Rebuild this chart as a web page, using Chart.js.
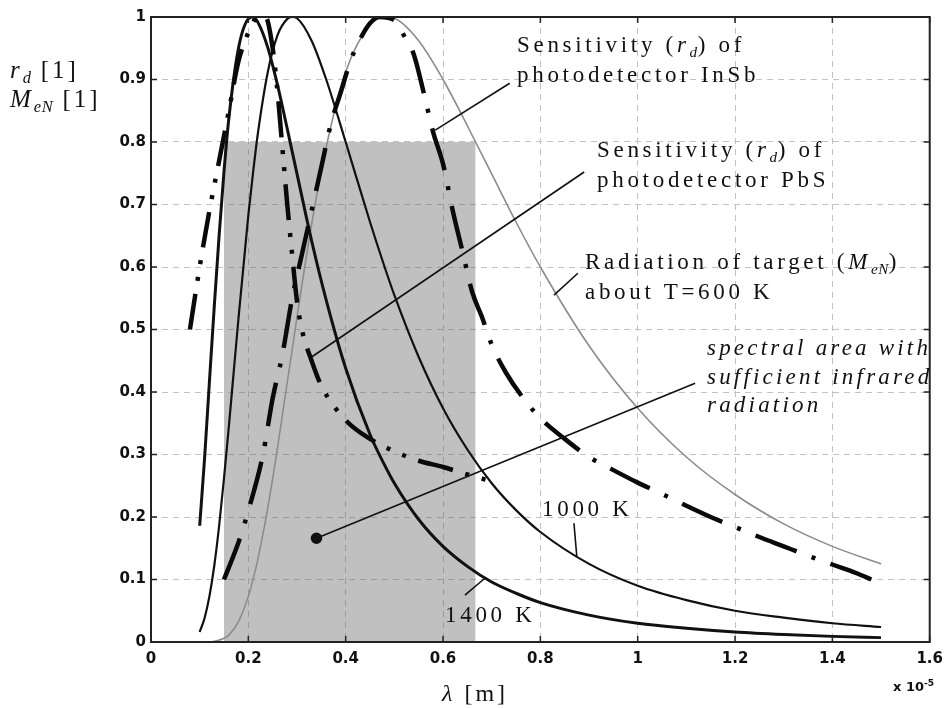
<!DOCTYPE html>
<html><head><meta charset="utf-8">
<script src="https://cdn.jsdelivr.net/npm/chart.js@4.4.0/dist/chart.umd.min.js"></script>
<style>
html,body{margin:0;padding:0;background:#fff;}
#wrap{position:relative;width:951px;height:708px;overflow:hidden;background:#fff;}
#c{position:absolute;left:0;top:0;}
.t{position:absolute;font-family:"Liberation Serif","Times New Roman",serif;font-size:23px;letter-spacing:3.7px;line-height:30px;color:#111;white-space:nowrap;}
.it{font-style:italic;}
.t sub{font-size:0.66em;vertical-align:-0.3em;line-height:0;letter-spacing:0.5px;}
.mul{position:absolute;font-family:"DejaVu Sans",sans-serif;font-weight:bold;font-size:13px;color:#111;white-space:nowrap;}
.mul sup{font-size:0.7em;}
</style></head><body>
<div id="wrap">
<canvas id="c" width="951" height="708"></canvas>
<div class="t" style="left:10px;top:55px;line-height:29px;font-size:25px;letter-spacing:3px;"><i>r</i><sub><i>d</i></sub> [1]<br><i>M</i><sub><i>eN</i></sub> [1]</div>
<div class="t" style="left:517px;top:30px;">Sensitivity (<i>r</i><sub><i>d</i></sub>) of<br>photodetector InSb</div>
<div class="t" style="left:597px;top:135px;">Sensitivity (<i>r</i><sub><i>d</i></sub>) of<br>photodetector PbS</div>
<div class="t" style="left:585px;top:247px;">Radiation of target (<i>M</i><sub><i>eN</i></sub>)<br>about T=600 K</div>
<div class="t it" style="left:707px;top:334px;line-height:28.5px;letter-spacing:3.2px;">spectral area with<br>sufficient infrared<br>radiation</div>
<div class="t" style="left:542px;top:494px;">1000 K</div>
<div class="t" style="left:445px;top:600px;">1400 K</div>
<div class="t" style="left:442px;top:680px;font-size:24px;line-height:26px;letter-spacing:3px;"><i>λ</i> [m]</div>
<div class="mul" style="left:893px;top:678px;">x 10<sup>-5</sup></div>
</div>
<script>
// wavelength grid (x 10^-5 m) for the radiation curves
const lambda = [0.10,0.11,0.12,0.13,0.14,0.15,0.16,0.18,0.20,0.21,0.22,0.24,0.26,0.28,0.29,0.30,0.33,0.36,0.40,0.45,0.48,0.50,0.55,0.60,0.65,0.70,0.75,0.80,0.90,1.00,1.10,1.20,1.30,1.40,1.50];
const me1400 = [0.186,0.293,0.416,0.537,0.651,0.753,0.838,0.951,0.997,1.000,0.991,0.951,0.891,0.821,0.785,0.749,0.642,0.547,0.438,0.332,0.283,0.254,0.196,0.153,0.121,0.096,0.078,0.063,0.043,0.030,0.022,0.016,0.012,0.009,0.007];
const me1000 = [0.016,0.038,0.073,0.122,0.186,0.262,0.345,0.520,0.683,0.753,0.816,0.912,0.971,0.997,1.000,0.998,0.962,0.900,0.800,0.672,0.600,0.555,0.456,0.374,0.308,0.254,0.211,0.176,0.125,0.090,0.067,0.050,0.039,0.030,0.024];
const me600  = [0.000,0.000,0.000,0.001,0.003,0.006,0.011,0.033,0.073,0.101,0.134,0.215,0.311,0.416,0.467,0.520,0.668,0.792,0.912,0.988,1.000,0.998,0.962,0.900,0.826,0.749,0.672,0.600,0.474,0.374,0.296,0.236,0.189,0.153,0.125];
// photodetector sensitivities
const lambdaInSb = [0.15,0.18,0.20,0.23,0.25,0.27,0.29,0.31,0.33,0.35,0.37,0.39,0.41,0.43,0.45,0.47,0.50,0.52,0.54,0.56,0.58,0.60,0.62,0.64,0.66,0.68,0.70,0.73,0.77,0.80,0.85,0.90,0.95,1.00,1.05,1.10,1.15,1.20,1.25,1.30,1.35,1.40,1.45,1.48];
const rdInSb     = [0.10,0.16,0.21,0.30,0.39,0.46,0.55,0.62,0.69,0.76,0.83,0.88,0.93,0.965,0.99,1.00,0.995,0.97,0.94,0.88,0.815,0.765,0.69,0.625,0.56,0.52,0.476,0.43,0.385,0.358,0.325,0.296,0.275,0.255,0.237,0.218,0.200,0.184,0.168,0.153,0.138,0.124,0.110,0.100];
const lambdaPbS = [0.08,0.10,0.12,0.14,0.16,0.18,0.20,0.22,0.235,0.25,0.26,0.27,0.28,0.29,0.30,0.31,0.33,0.35,0.40,0.45,0.50,0.55,0.60,0.65,0.71];
const rdPbS     = [0.50,0.60,0.69,0.77,0.85,0.93,0.975,1.00,1.00,0.95,0.88,0.79,0.70,0.62,0.545,0.50,0.45,0.41,0.355,0.325,0.305,0.29,0.28,0.268,0.255];
// spectral area with sufficient infrared radiation
const bandLambda = [0.15,0.667];
const bandLevel = 0.8;
// annotation leader lines: [x1,y1,x2,y2] in axis units
const leaderInSb = [0.737,0.894,0.584,0.819];
const leaderPbS = [0.890,0.752,0.330,0.456];
const leader600 = [0.877,0.590,0.828,0.555];
const leaderBand = [1.118,0.414,0.340,0.166];
const leader1000 = [0.869,0.190,0.875,0.136];
const leader1400 = [0.645,0.075,0.686,0.102];

const pts = (xs, ys) => xs.map((x, i) => ({x, y: ys[i]}));
const seg = a => [{x:a[0], y:a[1]}, {x:a[2], y:a[3]}];

const leaderStyle = {borderColor:'#111', borderWidth:1.6, pointRadius:0, tension:0, fill:false, order:0};
const datasets = [
  Object.assign({label:'leader InSb', data:seg(leaderInSb)}, leaderStyle),
  Object.assign({label:'leader PbS', data:seg(leaderPbS)}, leaderStyle),
  Object.assign({label:'leader 600', data:seg(leader600)}, leaderStyle),
  Object.assign({label:'leader band', data:seg(leaderBand)}, leaderStyle, {pointRadius:[0,5], pointBackgroundColor:'#111', pointBorderColor:'#111'}),
  Object.assign({label:'leader 1000', data:seg(leader1000)}, leaderStyle),
  Object.assign({label:'leader 1400', data:seg(leader1400)}, leaderStyle),
  {label:'InSb', data:pts(lambdaInSb, rdInSb), borderColor:'#0a0a0a', borderWidth:4.5, borderDash:[44,16,4,16], borderCapStyle:'butt', pointRadius:0, cubicInterpolationMode:'monotone', fill:false, order:1},
  {label:'PbS', data:pts(lambdaPbS, rdPbS), borderColor:'#0a0a0a', borderWidth:4.5, borderDash:[36,13,4,13,4,13], borderCapStyle:'butt', pointRadius:0, cubicInterpolationMode:'monotone', fill:false, order:1},
  {label:'1400 K', data:pts(lambda, me1400), borderColor:'#111', borderWidth:3, pointRadius:0, cubicInterpolationMode:'monotone', fill:false, order:2},
  {label:'1000 K', data:pts(lambda, me1000), borderColor:'#111', borderWidth:2.2, pointRadius:0, cubicInterpolationMode:'monotone', fill:false, order:2},
  {label:'600 K', data:pts(lambda, me600), borderColor:'#8c8c8c', borderWidth:1.6, pointRadius:0, cubicInterpolationMode:'monotone', fill:false, order:2},
  {label:'band', data:bandLambda.map(x => ({x, y:bandLevel})), borderWidth:0, borderColor:'rgba(0,0,0,0)', backgroundColor:'rgba(105,105,105,0.42)', pointRadius:0, tension:0, fill:'origin', order:10}
];

const frame = {
  id:'frame',
  afterDatasetsDraw(chart){
    const {ctx, chartArea:a, scales} = chart;
    ctx.save();
    ctx.strokeStyle = '#222';
    ctx.lineWidth = 1.5;
    ctx.beginPath();
    scales.x.ticks.forEach(t => {
      const px = scales.x.getPixelForValue(t.value);
      ctx.moveTo(px, a.bottom); ctx.lineTo(px, a.bottom - 6);
      ctx.moveTo(px, a.top); ctx.lineTo(px, a.top + 6);
    });
    scales.y.ticks.forEach(t => {
      const py = scales.y.getPixelForValue(t.value);
      ctx.moveTo(a.left, py); ctx.lineTo(a.left + 6, py);
      ctx.moveTo(a.right, py); ctx.lineTo(a.right - 6, py);
    });
    ctx.stroke();
    ctx.lineWidth = 2;
    ctx.strokeRect(a.left, a.top, a.right - a.left, a.bottom - a.top);
    ctx.restore();
  }
};

const fmt = v => String(Number(Number(v).toFixed(1)));
const tickFont = {family:'"DejaVu Sans", sans-serif', weight:'bold', size:15};
new Chart(document.getElementById('c'), {
  type:'line',
  data:{datasets},
  options:{
    responsive:false,
    animation:false,
    layout:{padding:{top:17, right:14, left:0, bottom:0}},
    plugins:{legend:{display:false}, tooltip:{enabled:false}},
    scales:{
      x:{type:'linear', min:0, max:1.6,
         ticks:{stepSize:0.2, font:tickFont, color:'#111', padding:8, maxRotation:0, callback:fmt},
         grid:{color:'#c2c2c2', lineWidth:1, drawTicks:false},
         border:{display:false, dash:[6,5]},
         afterFit(s){ s.height = 66; }},
      y:{type:'linear', min:0, max:1,
         ticks:{stepSize:0.1, font:tickFont, color:'#111', padding:5, callback:fmt},
         grid:{color:'#c2c2c2', lineWidth:1, drawTicks:false},
         border:{display:false, dash:[6,5]},
         afterFit(s){ s.width = 151; }}
    }
  },
  plugins:[frame]
});
</script>
</body></html>
